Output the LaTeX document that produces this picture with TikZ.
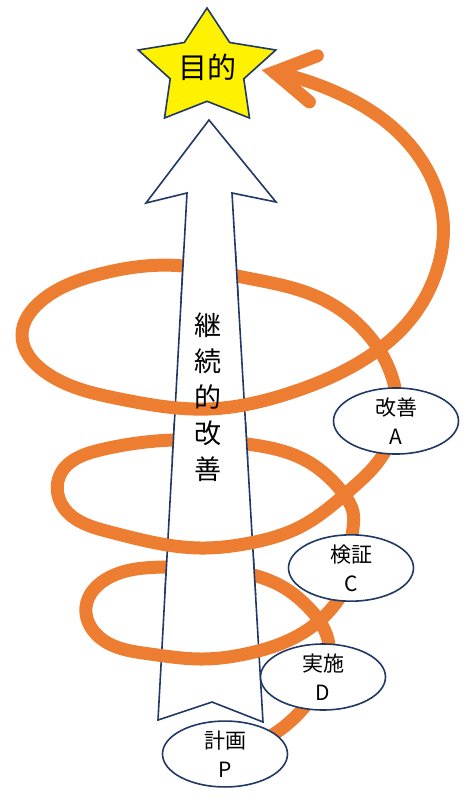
\documentclass[tikz,border=0pt]{standalone}
\usepackage{fontspec}
\setmainfont{Noto Sans CJK JP}
\usetikzlibrary{shapes.geometric,hobby}
\definecolor{navy}{HTML}{203864}
\definecolor{spiralc}{HTML}{ED7D31}
\pgfdeclarelayer{baselayer}
\pgfdeclarelayer{spirallayer}
\pgfdeclarelayer{patchlayer}
\pgfsetlayers{baselayer,spirallayer,patchlayer,main}
\newcommand\arrowpath{(209,120) -- (276,202) -- (232,193) -- (263,722) -- (212,702) -- (158,720) -- (187,193) -- (146,203) -- cycle}
\begin{document}
\begin{tikzpicture}[x=1pt,y=-1pt,
  outl/.style={draw=navy, line width=1.6pt},
  band/.style={draw=spiralc, line width=13pt, line cap=round, line join=round},
  phase/.style={ellipse, outl, fill=white, minimum width=125pt, minimum height=60pt,
    inner sep=0pt, align=center, font=\fontsize{21}{29}\selectfont},
]
\useasboundingbox (0,0) rectangle (473,803);

% phase ellipses
\node[phase] (A) at (396,421) {改善\\A};
\node[phase] (C) at (351,568) {検証\\C};
\node[phase] (D) at (323,677) {実施\\D};
\node[phase] (P) at (225,754) {計画\\P};

% goal star and main arrow
\begin{pgfonlayer}{baselayer}
\draw[outl, fill=yellow, line join=miter] (207,8) -- (229.7,42.5) -- (275.8,50) -- (243.8,78.8)
  -- (249.5,118) -- (207,101.3) -- (164.5,118) -- (170.2,78.8) -- (138.2,50) -- (184.3,42.5) -- cycle;
\fill[white] \arrowpath;
\draw[outl, line join=miter] \arrowpath;
\end{pgfonlayer}
\node[font=\fontsize{29}{30}\selectfont] (goal) at (207,67) {目的};
\node[font=\fontsize{27}{36}\selectfont, align=center, inner sep=0pt] (axis) at (208,397) {継\\続\\的\\改\\善};

\coordinate (tip) at (274.3,72.2);
\coordinate (barbU) at (317.3,55.8);
\coordinate (barbL) at (309.4,101.9);

% spiral
\begin{pgfonlayer}{spirallayer}
\draw[band, use Hobby shortcut]
(P.center) .. (300,712) .. (D.center) .. (329,645) .. (322,625) .. (307,606) .. (283,587)
.. (253,575) .. (167,567) .. (110,577) .. (86,607) .. (103,640) .. (150,654) .. (200,659)
.. (250,653) .. (285,642) .. (318,622) .. (340,597) .. (C.center) .. (352,537) .. (353,512)
.. (343,493) .. (305,460) .. (247,444) .. (173,440) .. (100,450) .. (60,475) .. (62,505)
.. (110,532) .. (200,548) .. (250,543) .. (300,527) .. (350,490) .. (378,462) .. (A.center)
.. (393,380) .. (370,337) .. (320,298) .. (237,276) .. (183,266) .. (100,274) .. (40,302)
.. (22,335) .. (45,372) .. (120,399) .. (208,409) .. (290,393) .. (360,362) .. (410,320)
.. (437,270) .. (443,220) .. (425,166) .. (390,125) .. (340,94) .. (tip);
\draw[band, line join=miter] (barbU) -- (tip) -- (barbL);
\end{pgfonlayer}

% arrow passes in front of the back half of each turn
\begin{pgfonlayer}{patchlayer}
\begin{scope}
\clip (100,250) rectangle (300,300) (100,422) rectangle (300,460) (100,557) rectangle (300,595);
\fill[white] \arrowpath;
\draw[outl, line join=miter] \arrowpath;
\end{scope}
\end{pgfonlayer}
\end{tikzpicture}
\end{document}
